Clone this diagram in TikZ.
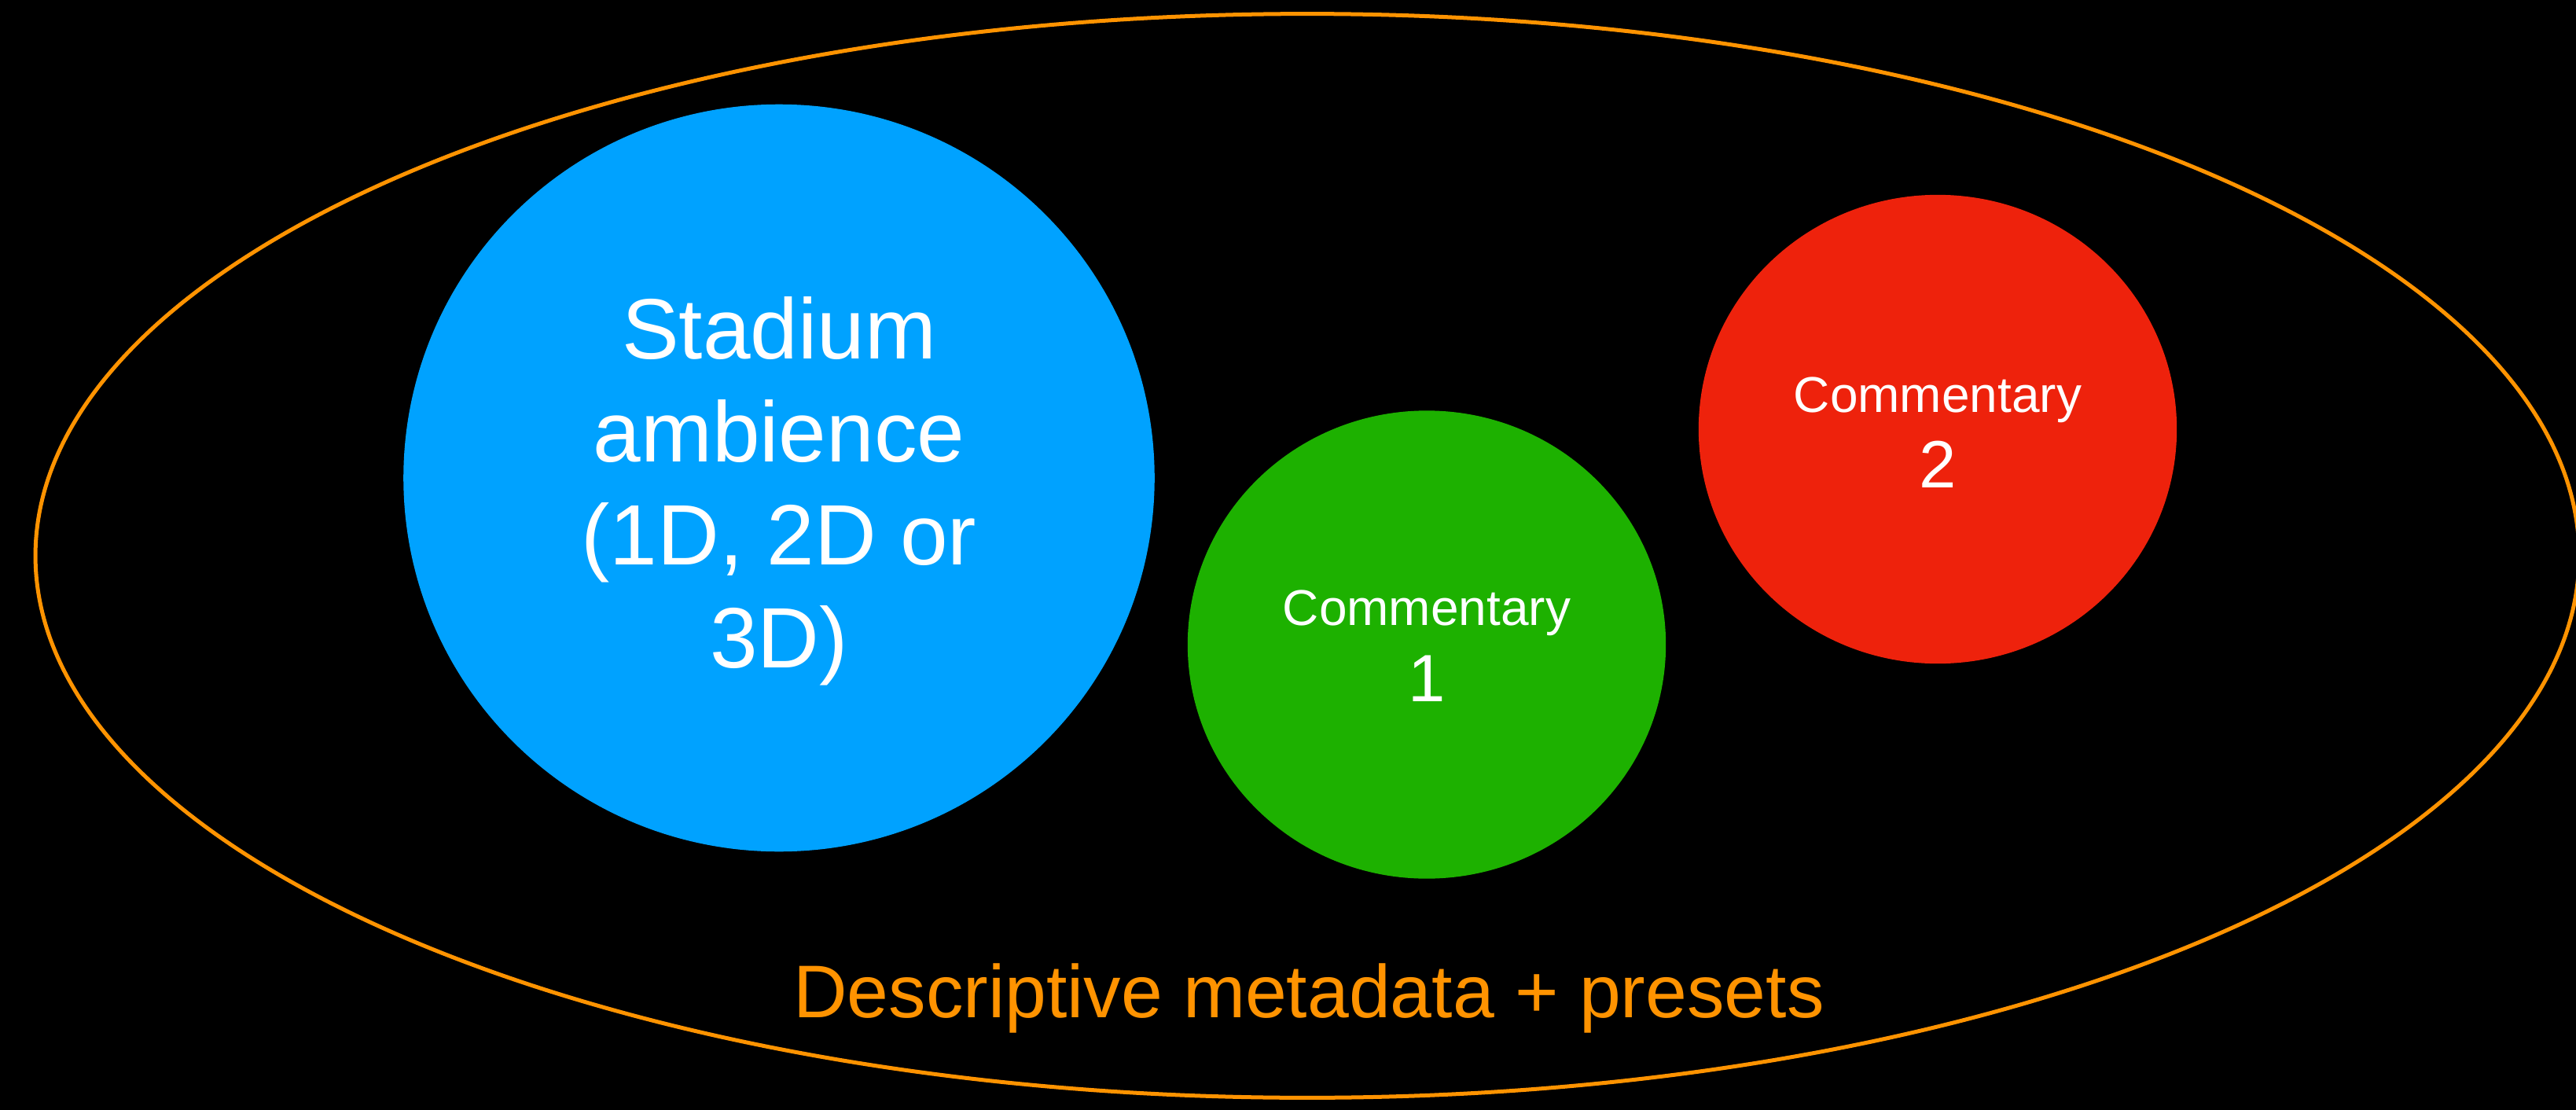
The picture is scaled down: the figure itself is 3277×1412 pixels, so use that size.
\documentclass[tikz,border=0pt]{standalone}
\usepackage{fontspec}
\setmainfont{Liberation Sans}
\usetikzlibrary{shapes.geometric}
\definecolor{keyorange}{HTML}{FF9300}
\definecolor{keyblue}{HTML}{00A2FF}
\definecolor{keygreen}{HTML}{1DB100}
\definecolor{keyred}{HTML}{EE220C}
\begin{document}
\begin{tikzpicture}[x=0.01cm,y=-0.01cm,
  disc/.style={ellipse,inner sep=0pt,draw=none},
  linetext/.style={text=white,anchor=base,inner sep=0pt},
  bigtext/.style={linetext,font=\fontsize{31}{37}\selectfont},
  smalltext/.style={linetext,font=\fontsize{18.2}{22}\selectfont},
  numtext/.style={linetext,font=\fontsize{24.2}{29}\selectfont}]
% black page
\fill[black] (0,0) rectangle (3277,1412);
\useasboundingbox (0,0) rectangle (3277,1412);

% outer metadata ellipse
\node[ellipse,draw=keyorange,line width=0.05cm,inner sep=0pt,
      minimum width=32.34cm,minimum height=13.78cm] (meta) at (1663,707) {};

% audio object discs
\node[disc,fill=keyblue,minimum width=9.55cm,minimum height=9.50cm] (amb) at (991,608) {};
\node[disc,fill=keygreen,minimum width=6.08cm,minimum height=5.95cm] (comm1) at (1815,820) {};
\node[disc,fill=keyred,minimum width=6.08cm,minimum height=5.96cm] (comm2) at (2465,546) {};

% labels
\node[bigtext] (ambA) at (991,456) {Stadium};
\node[bigtext] (ambB) at (991,587) {ambience};
\node[bigtext] (ambC) at (991,718) {(1D, 2D or};
\node[bigtext] (ambD) at (991,849) {3D)};

\node[smalltext] (c1A) at (1815,795) {Commentary};
\node[numtext] (c1B) at (1815,892) {1};

\node[smalltext] (c2A) at (2465,524) {Commentary};
\node[numtext] (c2B) at (2465,620) {2};

\node[linetext,text=keyorange,font=\fontsize{27}{32}\selectfont] (metaL) at (1665,1294) {Descriptive metadata + presets};
\end{tikzpicture}
\end{document}
